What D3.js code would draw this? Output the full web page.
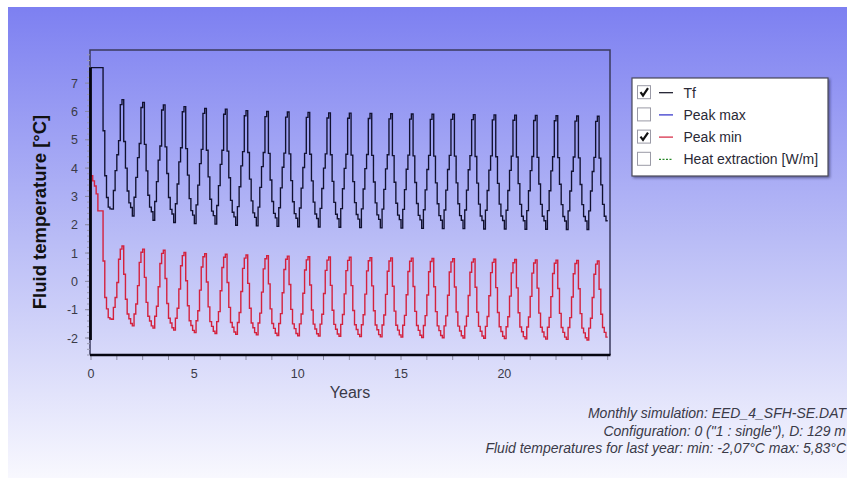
<!DOCTYPE html>
<html>
<head>
<meta charset="utf-8">
<script src="https://cdn.jsdelivr.net/npm/d3@7"></script>
<style>
  body { margin: 0; background: #ffffff; }
  svg { display: block; font-family: "Liberation Sans", Arial, sans-serif; }
</style>
</head>
<body>
<svg id="chart" width="847" height="478"></svg>
<script>
// Monthly fluid temperature Tf [°C], one row per simulated year (Jan..Dec)
const tfByYear = [
  [7.55, 7.55, 7.55, 7.55, 7.55, 7.55, 7.55, 5.32, 3.73, 2.96, 2.62, 2.56],
  [2.55, 3.21, 3.91, 4.47, 4.97, 6.24, 6.42, 4.94, 4.00, 3.19, 2.77, 2.61],
  [2.31, 2.97, 3.67, 4.37, 4.87, 6.14, 6.32, 4.84, 3.90, 3.04, 2.62, 2.46],
  [2.16, 2.82, 3.52, 4.28, 4.78, 6.05, 6.23, 4.75, 3.81, 2.96, 2.54, 2.38],
  [2.08, 2.74, 3.44, 4.22, 4.72, 5.99, 6.17, 4.69, 3.75, 2.92, 2.50, 2.34],
  [2.04, 2.70, 3.40, 4.16, 4.66, 5.93, 6.11, 4.63, 3.69, 2.90, 2.48, 2.32],
  [2.02, 2.68, 3.38, 4.13, 4.63, 5.90, 6.08, 4.60, 3.66, 2.86, 2.44, 2.28],
  [1.98, 2.64, 3.34, 4.08, 4.58, 5.85, 6.03, 4.55, 3.61, 2.84, 2.42, 2.26],
  [1.96, 2.62, 3.32, 4.05, 4.55, 5.82, 6.00, 4.52, 3.58, 2.82, 2.40, 2.24],
  [1.94, 2.60, 3.30, 4.03, 4.53, 5.80, 5.98, 4.50, 3.56, 2.81, 2.39, 2.23],
  [1.93, 2.59, 3.29, 4.02, 4.52, 5.79, 5.97, 4.49, 3.55, 2.80, 2.38, 2.22],
  [1.92, 2.58, 3.28, 4.00, 4.50, 5.77, 5.95, 4.47, 3.53, 2.79, 2.37, 2.21],
  [1.91, 2.57, 3.27, 3.99, 4.49, 5.76, 5.94, 4.46, 3.52, 2.78, 2.36, 2.20],
  [1.90, 2.56, 3.26, 3.98, 4.48, 5.75, 5.93, 4.45, 3.51, 2.77, 2.35, 2.19],
  [1.89, 2.55, 3.25, 3.97, 4.47, 5.74, 5.92, 4.44, 3.50, 2.76, 2.34, 2.18],
  [1.88, 2.54, 3.24, 3.96, 4.46, 5.73, 5.91, 4.43, 3.49, 2.75, 2.33, 2.17],
  [1.87, 2.53, 3.23, 3.95, 4.45, 5.72, 5.90, 4.42, 3.48, 2.74, 2.32, 2.16],
  [1.86, 2.52, 3.22, 3.95, 4.45, 5.72, 5.90, 4.42, 3.48, 2.74, 2.32, 2.16],
  [1.86, 2.52, 3.22, 3.94, 4.44, 5.71, 5.89, 4.41, 3.47, 2.73, 2.31, 2.15],
  [1.85, 2.51, 3.21, 3.93, 4.43, 5.70, 5.88, 4.40, 3.46, 2.73, 2.31, 2.15],
  [1.85, 2.51, 3.21, 3.92, 4.42, 5.69, 5.87, 4.39, 3.45, 2.72, 2.30, 2.14],
  [1.84, 2.50, 3.20, 3.91, 4.41, 5.68, 5.86, 4.38, 3.44, 2.72, 2.30, 2.14],
  [1.84, 2.50, 3.20, 3.90, 4.40, 5.67, 5.85, 4.37, 3.43, 2.71, 2.29, 2.13],
  [1.83, 2.49, 3.19, 3.89, 4.39, 5.66, 5.84, 4.36, 3.42, 2.71, 2.29, 2.13],
  [1.83, 2.49, 3.19, 3.88, 4.38, 5.65, 5.83, 4.35, 3.41, 2.72, 2.30, 2.14]
];

// Monthly fluid temperature at peak load (minimum) [°C]
const peakMinByYear = [
  [ 3.73,  3.55,  3.37,  3.09,  2.49,  2.49,  2.49,  0.72, -0.57, -0.97, -1.28, -1.33],
  [-1.34, -0.92, -0.57, -0.04,  0.78,  1.14,  1.25,  0.25, -0.63, -1.15, -1.32, -1.49],
  [-1.57, -1.15, -0.80, -0.15,  0.67,  1.03,  1.14,  0.14, -0.74, -1.23, -1.40, -1.57],
  [-1.65, -1.23, -0.88, -0.19,  0.63,  0.99,  1.10,  0.10, -0.78, -1.30, -1.47, -1.64],
  [-1.72, -1.30, -0.95, -0.27,  0.55,  0.91,  1.02,  0.02, -0.86, -1.39, -1.56, -1.73],
  [-1.81, -1.39, -1.04, -0.31,  0.51,  0.87,  0.98, -0.02, -0.90, -1.42, -1.59, -1.76],
  [-1.84, -1.42, -1.07, -0.33,  0.49,  0.85,  0.96, -0.04, -0.92, -1.45, -1.62, -1.79],
  [-1.87, -1.45, -1.10, -0.36,  0.46,  0.82,  0.93, -0.07, -0.95, -1.47, -1.64, -1.81],
  [-1.89, -1.47, -1.12, -0.38,  0.44,  0.80,  0.91, -0.09, -0.97, -1.49, -1.66, -1.83],
  [-1.91, -1.49, -1.14, -0.40,  0.42,  0.78,  0.89, -0.11, -0.99, -1.50, -1.67, -1.84],
  [-1.92, -1.50, -1.15, -0.42,  0.40,  0.76,  0.87, -0.13, -1.01, -1.51, -1.68, -1.85],
  [-1.93, -1.51, -1.16, -0.43,  0.39,  0.75,  0.86, -0.14, -1.02, -1.52, -1.69, -1.86],
  [-1.94, -1.52, -1.17, -0.44,  0.38,  0.74,  0.85, -0.15, -1.03, -1.53, -1.70, -1.87],
  [-1.95, -1.53, -1.18, -0.45,  0.37,  0.73,  0.84, -0.16, -1.04, -1.54, -1.71, -1.88],
  [-1.96, -1.54, -1.19, -0.46,  0.36,  0.72,  0.83, -0.17, -1.05, -1.55, -1.72, -1.89],
  [-1.97, -1.55, -1.20, -0.47,  0.35,  0.71,  0.82, -0.18, -1.06, -1.56, -1.73, -1.90],
  [-1.98, -1.56, -1.21, -0.48,  0.34,  0.70,  0.81, -0.19, -1.07, -1.57, -1.74, -1.91],
  [-1.99, -1.57, -1.22, -0.49,  0.33,  0.69,  0.80, -0.20, -1.08, -1.58, -1.75, -1.92],
  [-2.00, -1.58, -1.23, -0.50,  0.32,  0.68,  0.79, -0.21, -1.09, -1.59, -1.76, -1.93],
  [-2.01, -1.59, -1.24, -0.51,  0.31,  0.67,  0.78, -0.22, -1.10, -1.60, -1.77, -1.94],
  [-2.02, -1.60, -1.25, -0.52,  0.30,  0.66,  0.77, -0.23, -1.11, -1.61, -1.78, -1.95],
  [-2.03, -1.61, -1.26, -0.53,  0.29,  0.65,  0.76, -0.24, -1.12, -1.62, -1.79, -1.96],
  [-2.04, -1.62, -1.27, -0.54,  0.28,  0.64,  0.75, -0.25, -1.13, -1.63, -1.80, -1.97],
  [-2.05, -1.63, -1.28, -0.55,  0.27,  0.63,  0.74, -0.26, -1.14, -1.65, -1.82, -1.99],
  [-2.07, -1.65, -1.30, -0.57,  0.25,  0.61,  0.72, -0.28, -1.16, -1.63, -1.80, -1.97]
];

const yTickValues = [-2, -1, 0, 1, 2, 3, 4, 5, 6, 7];
const xTickValues = [0, 5, 10, 15, 20];
const legendLabels = ["Tf", "Peak max", "Peak min", "Heat extraction [W/m]"];
const legendChecked = [true, false, true, false];
const legendColors = ["#111122", "#2b2bc8", "#d4213d", "#2a8a2a"];
const legendDashed = [false, false, false, true];
const footerLines = [
  "Monthly simulation: EED_4_SFH-SE.DAT",
  "Configuration: 0 (\"1 : single\"), D: 129 m",
  "Fluid temperatures for last year: min: -2,07°C max: 5,83°C"
];

const svg = d3.select("#chart");
const W = 847, H = 478;

// Background gradient panel
const defs = svg.append("defs");
const grad = defs.append("linearGradient").attr("id", "bg").attr("x1", 0).attr("y1", 0).attr("x2", 0).attr("y2", 1);
grad.append("stop").attr("offset", "0%").attr("stop-color", "#7d80f1");
grad.append("stop").attr("offset", "50%").attr("stop-color", "#babdf6");
grad.append("stop").attr("offset", "100%").attr("stop-color", "#f8f8fe");
const shadow = defs.append("filter").attr("id", "shadow").attr("x", "-10%").attr("y", "-10%").attr("width", "130%").attr("height", "130%");
shadow.append("feDropShadow").attr("dx", 1.5).attr("dy", 1.5).attr("stdDeviation", 1.2)
  .attr("flood-color", "#1a1a50").attr("flood-opacity", 0.55);

svg.append("rect").attr("x", 8).attr("y", 7).attr("width", W - 8).attr("height", H - 7).attr("fill", "url(#bg)");

// Plot frame and scales
const frame = { left: 90, top: 50, right: 610, bottom: 355 };
const x = d3.scaleLinear().domain([0, 25]).range([91, 607.7]);
const y = d3.scaleLinear().domain([-2.6, 8.17]).range([frame.bottom, frame.top]);

// Thin frame (top / right / left)
svg.append("path")
  .attr("d", `M${frame.left},${frame.bottom} V${frame.top} H${frame.right} V${frame.bottom}`)
  .attr("fill", "none").attr("stroke", "#3a3a5c").attr("stroke-width", 1.5);

// Build monthly step series
function toPoints(rows) {
  const flat = rows.flat();
  const pts = flat.map((v, i) => ({ t: i / 12, v }));
  pts.push({ t: flat.length / 12, v: flat[flat.length - 1] });
  return pts;
}
const tfPts = toPoints(tfByYear);
const pmPts = toPoints(peakMinByYear);

const line = d3.line().x(d => x(d.t)).y(d => y(d.v)).curve(d3.curveStepAfter);

// Y axis: minor + major ticks on the left
const yAxisG = svg.append("g");
const minorY = d3.range(-26, 82, 2).map(k => k / 10);
yAxisG.selectAll("line.minor").data(minorY).join("line")
  .attr("x1", frame.left - 3).attr("x2", frame.left)
  .attr("y1", d => y(d)).attr("y2", d => y(d))
  .attr("stroke", "#9a9ab0").attr("stroke-width", 1);
yAxisG.selectAll("line.major").data(yTickValues).join("line")
  .attr("x1", frame.left - 5).attr("x2", frame.left)
  .attr("y1", d => y(d)).attr("y2", d => y(d))
  .attr("stroke", "#8a8aa0").attr("stroke-width", 1);
yAxisG.selectAll("text").data(yTickValues).join("text")
  .attr("x", 78).attr("y", d => y(d) + 4.5)
  .attr("text-anchor", "end").attr("font-size", 12.5).attr("fill", "#3a3a48")
  .text(d => d);

// X axis: ticks every 1.25 years, labels every 5
const xAxisG = svg.append("g");
const xMinor = d3.range(0, 21).map(k => k * 1.25).filter(t => t <= 25);
xAxisG.selectAll("line").data(xMinor).join("line")
  .attr("x1", d => x(d)).attr("x2", d => x(d))
  .attr("y1", frame.bottom).attr("y2", frame.bottom + 5)
  .attr("stroke", "#8a8aa0").attr("stroke-width", 1);
xAxisG.selectAll("text").data(xTickValues).join("text")
  .attr("x", d => x(d)).attr("y", 378)
  .attr("text-anchor", "middle").attr("font-size", 12.5).attr("fill", "#3a3a48")
  .text(d => d);

// Series
svg.append("path").datum(pmPts).attr("d", line)
  .attr("fill", "none").attr("stroke", "#d4213d").attr("stroke-width", 1.4);
svg.append("path").datum(tfPts).attr("d", line)
  .attr("fill", "none").attr("stroke", "#111130").attr("stroke-width", 1.35);

// Heavy axis lines: bottom axis and value-range bar at t = 0
const allVals = tfPts.concat(pmPts).map(d => d.v);
const [vMin, vMax] = d3.extent(allVals);
svg.append("line").attr("x1", frame.left).attr("x2", frame.right + 0.5)
  .attr("y1", frame.bottom).attr("y2", frame.bottom)
  .attr("stroke", "#050510").attr("stroke-width", 2.6);
svg.append("line").attr("x1", x(0) - 0.5).attr("x2", x(0) - 0.5)
  .attr("y1", y(vMax)).attr("y2", y(vMin))
  .attr("stroke", "#050510").attr("stroke-width", 2.8);

// Axis titles
svg.append("text").attr("x", 350).attr("y", 398).attr("text-anchor", "middle")
  .attr("font-size", 16).attr("fill", "#3a3a48").text("Years");
svg.append("text")
  .attr("transform", `translate(46,212) rotate(-90)`)
  .attr("text-anchor", "middle").attr("font-size", 18.5).attr("font-weight", "bold")
  .attr("fill", "#111111").text("Fluid temperature [°C]");

// Legend
const lg = svg.append("g").attr("transform", "translate(632,78)");
lg.append("rect").attr("width", 196).attr("height", 98)
  .attr("fill", "#ffffff").attr("stroke", "#4a4a5a").attr("stroke-width", 1.2)
  .attr("filter", "url(#shadow)");
const rows = lg.selectAll("g.row").data(legendLabels).join("g")
  .attr("transform", (d, i) => `translate(0,${14.7 + i * 22.2})`);
rows.append("rect").attr("x", 5.5).attr("y", -7).attr("width", 13).attr("height", 13)
  .attr("fill", "#ffffff").attr("stroke", "#9a9aa6").attr("stroke-width", 1);
rows.filter((d, i) => legendChecked[i]).append("path")
  .attr("d", "M8.5,-0.5 L11,2.8 L16,-4.5")
  .attr("fill", "none").attr("stroke", "#111").attr("stroke-width", 2.2);
rows.append("line").attr("x1", 27).attr("x2", 41).attr("y1", 0).attr("y2", 0)
  .attr("stroke", (d, i) => legendColors[i]).attr("stroke-width", 1.2)
  .attr("stroke-dasharray", (d, i) => legendDashed[i] ? "2,1.5" : null);
rows.append("text").attr("x", 51.5).attr("y", 4.8)
  .attr("font-size", 14).attr("fill", "#2a2a36").text(d => d);

// Footer notes (right-aligned against the page edge)
svg.selectAll("text.note").data(footerLines).join("text")
  .attr("class", "note")
  .attr("x", 846).attr("y", (d, i) => 418 + i * 17.5)
  .attr("text-anchor", "end").attr("font-size", 14).attr("font-style", "italic")
  .attr("fill", "#3a3a48").text(d => d);
</script>
</body>
</html>
